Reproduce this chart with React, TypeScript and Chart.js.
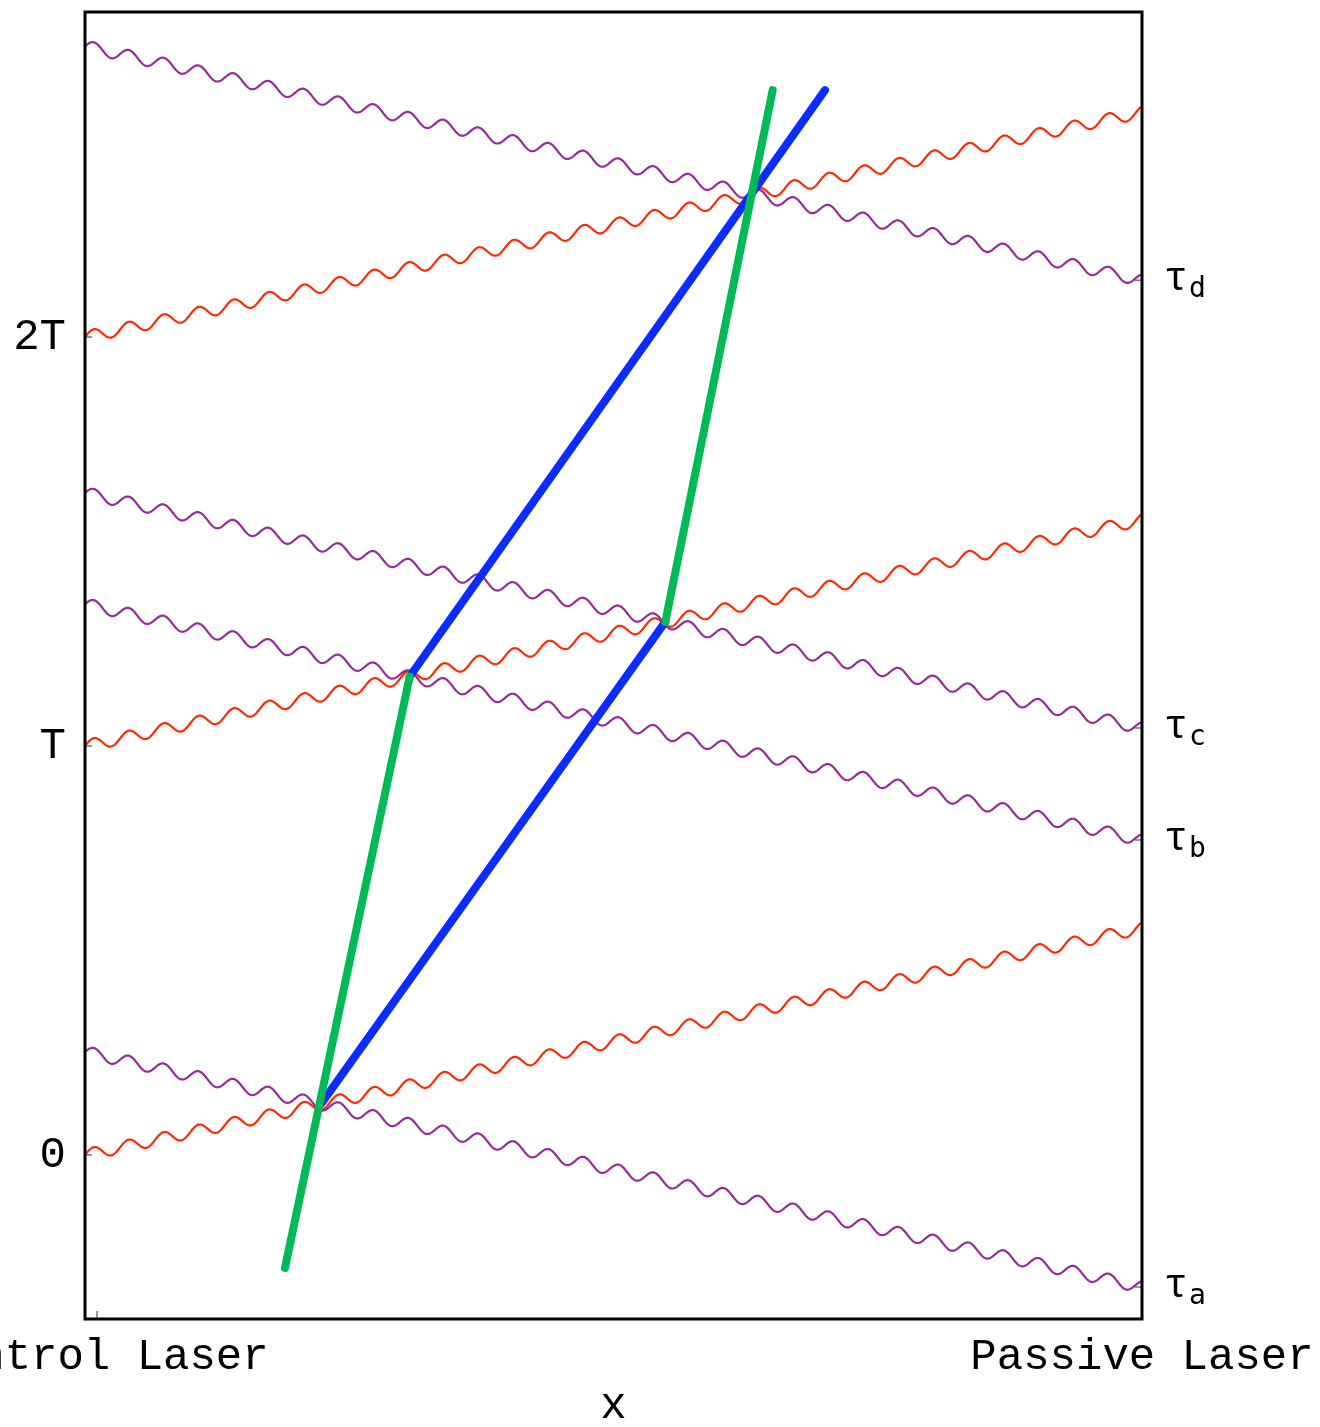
import React, { useEffect, useRef } from 'react';
import { Chart, registerables } from 'chart.js';

Chart.register(...registerables);

// ---- data (x: 0 = Control Laser, 1 = Passive Laser; y in units of T) ----
const X_MIN = 0;
const X_MAX = 1;
const Y_MIN = -0.401;
const Y_MAX = 2.795;

const redStartY = [0, 1, 2];
const redEndY = [0.555, 1.553, 2.55];

const purpleStartY = [0.252, 1.347, 1.619, 2.711];
const purpleEndY = [-0.323, 0.77, 1.044, 2.139];

const greenSegment1 = [
  { x: 0.1892, y: -0.276 },
  { x: 0.3072, y: 1.17 },
];
const greenSegment2 = [
  { x: 0.549, y: 1.3035 },
  { x: 0.6506, y: 2.604 },
];
const blueSegment1 = [
  { x: 0.223, y: 0.124 },
  { x: 0.549, y: 1.3035 },
];
const blueSegment2 = [
  { x: 0.3072, y: 1.17 },
  { x: 0.7001, y: 2.604 },
];

const yTickValues = [0, 1, 2];
const yTickLabels = ['0', 'T', '2T'];
const xTickValues = [0.0114, 1];
const xTickLabels = ['Control Laser', 'Passive Laser'];
const tauValues = purpleEndY;
const tauSubscripts = ['a', 'b', 'c', 'd'];

// ---- styles ----
const RED = '#ff2a00';
const PURPLE = '#982a9c';
const GREEN = '#00ba55';
const BLUE = '#0a2cff';
const MONO = '"Courier New", "Nimbus Mono PS", "FreeMono", "Liberation Mono", monospace';
const WAVE_AMP = 6;
const WAVE_PERIOD = 35;

const wavyPlugin = {
  id: 'wavy',
  beforeDatasetsDraw(chart: any) {
    const ctx = chart.ctx;
    chart.data.datasets.forEach((ds: any, i: number) => {
      if (!ds.wavy) return;
      const meta = chart.getDatasetMeta(i);
      const p0 = meta.data[0];
      const p1 = meta.data[1];
      if (!p0 || !p1) return;
      const x0 = p0.x, y0 = p0.y, x1 = p1.x, y1 = p1.y;
      const n = Math.ceil(Math.abs(x1 - x0) * 2);
      ctx.save();
      ctx.beginPath();
      for (let k = 0; k <= n; k++) {
        const t = k / n;
        const x = x0 + t * (x1 - x0);
        const yb = y0 + t * (y1 - y0);
        const y = yb - WAVE_AMP * Math.sin((2 * Math.PI * (x - x0)) / WAVE_PERIOD);
        if (k === 0) ctx.moveTo(x, y);
        else ctx.lineTo(x, y);
      }
      ctx.strokeStyle = ds.borderColor;
      ctx.lineWidth = 2.2;
      ctx.lineJoin = 'round';
      ctx.stroke();
      ctx.restore();
    });
  },
};

const framePlugin = {
  id: 'frame',
  afterDraw(chart: any) {
    const ctx = chart.ctx;
    const { left, top, right, bottom } = chart.chartArea;
    const xs = chart.scales.x;
    const ys = chart.scales.y;
    const y2 = chart.scales.y2;
    ctx.save();
    // inner ticks
    ctx.strokeStyle = '#777';
    ctx.lineWidth = 1.5;
    ctx.beginPath();
    yTickValues.forEach((v) => {
      const py = ys.getPixelForValue(v);
      ctx.moveTo(left, py);
      ctx.lineTo(left + 7, py);
    });
    tauValues.forEach((v) => {
      const py = y2.getPixelForValue(v);
      ctx.moveTo(right - 7, py);
      ctx.lineTo(right, py);
    });
    xTickValues.forEach((v) => {
      const px = xs.getPixelForValue(v);
      ctx.moveTo(px, bottom);
      ctx.lineTo(px, bottom - 8);
    });
    ctx.stroke();
    // frame
    ctx.strokeStyle = '#000';
    ctx.lineWidth = 3;
    ctx.strokeRect(left, top, right - left, bottom - top);
    // tau labels
    ctx.fillStyle = '#000';
    ctx.textAlign = 'left';
    ctx.textBaseline = 'alphabetic';
    tauValues.forEach((v, i) => {
      const py = y2.getPixelForValue(v);
      ctx.font = `40px ${MONO}`;
      const tx = right + 22;
      ctx.fillText('τ', tx, py + 10);
      const w = ctx.measureText('τ').width;
      ctx.font = `28px "DejaVu Sans Mono", monospace`;
      ctx.fillText(tauSubscripts[i], tx + w + 1, py + 17);
    });
    ctx.restore();
  },
};

function wavyDataset(startY: number, endY: number, color: string) {
  return {
    data: [
      { x: X_MIN, y: startY },
      { x: X_MAX, y: endY },
    ],
    wavy: true,
    borderColor: color,
    showLine: false,
    pointRadius: 0,
    pointHoverRadius: 0,
  } as any;
}

function thickDataset(seg: { x: number; y: number }[], color: string) {
  return {
    data: seg,
    borderColor: color,
    borderWidth: 8,
    borderCapStyle: 'round',
    showLine: true,
    pointRadius: 0,
    pointHoverRadius: 0,
  } as any;
}

export default function App() {
  const canvasRef = useRef<HTMLCanvasElement | null>(null);

  useEffect(() => {
    if (!canvasRef.current) return;
    const datasets: any[] = [
      thickDataset(greenSegment1, GREEN),
      thickDataset(greenSegment2, GREEN),
      thickDataset(blueSegment1, BLUE),
      thickDataset(blueSegment2, BLUE),
      ...redStartY.map((s, i) => wavyDataset(s, redEndY[i], RED)),
      ...purpleStartY.map((s, i) => wavyDataset(s, purpleEndY[i], PURPLE)),
    ];
    const chart = new Chart(canvasRef.current, {
      type: 'scatter',
      data: { datasets },
      plugins: [wavyPlugin, framePlugin],
      options: {
        animation: false,
        responsive: false,
        events: [],
        layout: { padding: { top: 12, left: 0, right: 0, bottom: 0 } },
        plugins: { legend: { display: false }, tooltip: { enabled: false } },
        scales: {
          x: {
            type: 'linear',
            min: X_MIN,
            max: X_MAX,
            grid: { display: false, drawTicks: false },
            border: { display: false },
            afterBuildTicks: (scale: any) => {
              scale.ticks = xTickValues.map((v) => ({ value: v }));
            },
            afterFit: (scale: any) => {
              scale.height = 108;
              scale.paddingLeft = 0;
              scale.paddingRight = 0;
            },
            ticks: {
              autoSkip: false,
              maxRotation: 0,
              minRotation: 0,
              padding: 12,
              color: '#000',
              font: { family: MONO, size: 44 },
              callback: (_v: any, i: number) => xTickLabels[i],
            },
            title: {
              display: true,
              text: 'x',
              color: '#000',
              padding: 0,
              font: { family: MONO, size: 44, lineHeight: 0.93 },
            },
          },
          y: {
            type: 'linear',
            position: 'left',
            min: Y_MIN,
            max: Y_MAX,
            grid: { display: false, drawTicks: false },
            border: { display: false },
            afterBuildTicks: (scale: any) => {
              scale.ticks = yTickValues.map((v) => ({ value: v }));
            },
            afterFit: (scale: any) => {
              scale.width = 85;
              scale.paddingTop = 0;
              scale.paddingBottom = 0;
            },
            ticks: {
              padding: 19,
              color: '#000',
              font: { family: MONO, size: 44 },
              callback: (_v: any, i: number) => yTickLabels[i],
            },
          },
          y2: {
            type: 'linear',
            position: 'right',
            min: Y_MIN,
            max: Y_MAX,
            grid: { display: false, drawTicks: false },
            border: { display: false },
            afterBuildTicks: (scale: any) => {
              scale.ticks = tauValues.map((v) => ({ value: v }));
            },
            afterFit: (scale: any) => {
              scale.width = 178;
              scale.paddingTop = 0;
              scale.paddingBottom = 0;
            },
            ticks: { display: false },
          },
        },
      } as any,
    });
    return () => chart.destroy();
  }, []);

  return (
    <div style={{ position: 'absolute', left: 0, top: 0, width: 1320, height: 1427, background: '#fff' }}>
      <canvas ref={canvasRef} width={1320} height={1427} style={{ display: 'block' }} />
    </div>
  );
}
